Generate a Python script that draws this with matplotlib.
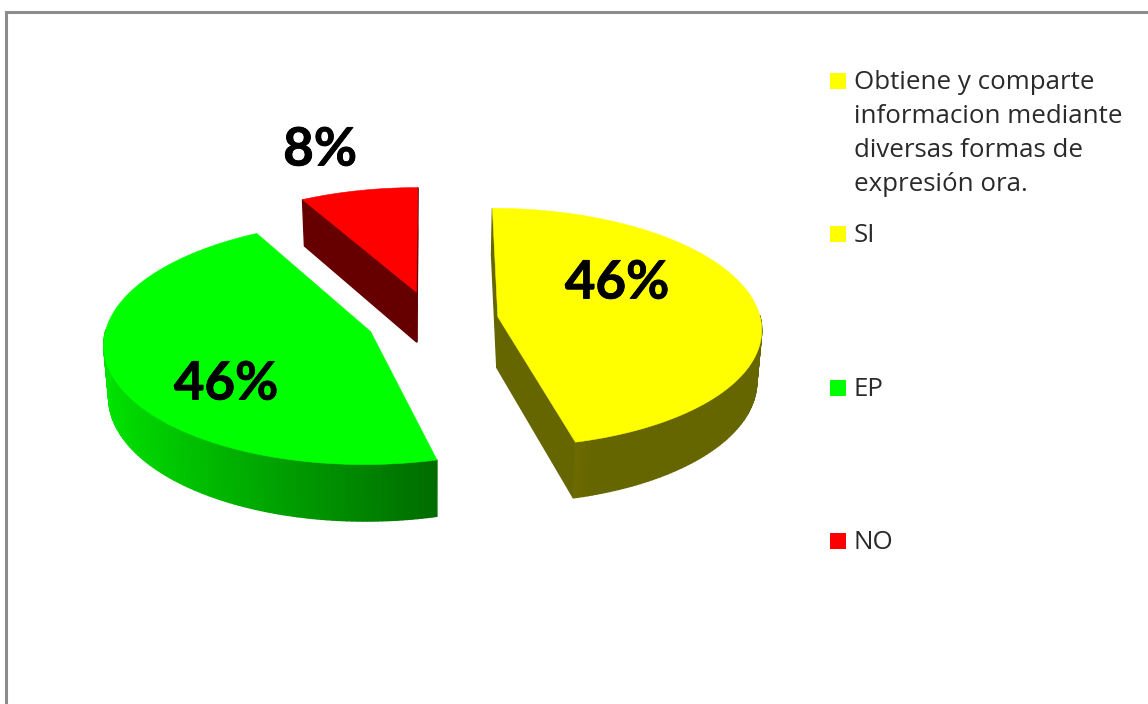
"""Exploded 3D pie chart drawn with a small perspective projection."""

from matplotlib import patheffects
from matplotlib import pyplot as plt
import numpy as np

# Chart data, clockwise from the top of the pie
SLICE_NAMES = ['SI', 'EP', 'NO']
SLICE_VALUES = [46, 46, 8]
SLICE_COLORS = [(1, 1, 0), (0, 1, 0), (1, 0, 0)]
LEGEND_TITLE = 'Obtiene y comparte\ninformacion mediante\ndiversas formas de\nexpresión ora.'

# Pie geometry, in pixels of the figure
WIDTH, HEIGHT = 1148, 704
CENTER_X, CENTER_Y = 432.5, 320.5
RADIUS = 263
EXPLODE = 66
THICKNESS = 51
TILT = 0.452
PERSPECTIVE = 0.09
BOTTOM_SHRINK = 0.015

FONT = 'Open Sans'
TEXT_COLOR = '#2a2a2a'
BORDER_COLOR = '#8c8c8c'

# Where each percentage label sits
LABEL_POS = [(617, 283), (226, 384), (320, 150)]
# Middle of the legend rows, with the first row being the title
LEGEND_ROWS = [81, 234, 388, 541]


def project(x, y, z=0.):
    """Project a point of the pie plane to figure pixels."""
    scale = 1 / (1 + PERSPECTIVE * np.asarray(y) / RADIUS)
    shrink = 1 - BOTTOM_SHRINK * z / THICKNESS
    return (CENTER_X + x * scale * shrink,
            CENTER_Y - TILT * y * scale + z * scale)


def shade(color, angle):
    """Darken a wall, the left of the pie catches more light."""
    amount = np.interp(np.cos(angle), [-1, 0.3, 1], [0.9, 0.4, 0.4])
    return tuple(c * amount for c in color)


def rim(off_x, off_y, angle):
    """Return plane coordinates of the pie rim at an angle."""
    return off_x + RADIUS * np.cos(angle), off_y + RADIUS * np.sin(angle)


def draw_quad(ax, points, color):
    """Fill one wall section."""
    xs, ys = zip(*points)
    ax.fill(xs, ys, color=color, lw=1.0, snap=False)


def draw_slice(ax, start, stop, color):
    """Draw walls and top of one slice, from start clockwise to stop."""
    mid = (start + stop) / 2
    off_x, off_y = EXPLODE * np.cos(mid), EXPLODE * np.sin(mid)
    angles = np.linspace(start, stop, max(int(np.degrees(start - stop)), 2) + 1)

    # Flat walls from the tip of the slice out to the rim, if facing us
    for angle, normal in ((start, start + np.pi / 2), (stop, stop - np.pi / 2)):
        if np.sin(normal) > 1e-6:
            continue
        rim_x, rim_y = rim(off_x, off_y, angle)
        draw_quad(ax, [project(off_x, off_y),
                       project(rim_x, rim_y),
                       project(rim_x, rim_y, THICKNESS),
                       project(off_x, off_y, THICKNESS)],
                  shade(color, 0.))

    # Curved wall, split up so that it can carry a gradient
    for a, b in zip(angles[:-1], angles[1:]):
        # The back of the rim is hidden
        if np.sin(a) > 0 and np.sin(b) > 0:
            continue
        ax_, ay_ = rim(off_x, off_y, a)
        bx_, by_ = rim(off_x, off_y, b)
        draw_quad(ax, [project(ax_, ay_),
                       project(bx_, by_),
                       project(bx_, by_, THICKNESS),
                       project(ax_, ay_, THICKNESS)],
                  shade(color, (a + b) / 2))

    # Top surface
    top = [project(off_x, off_y)] + [project(*rim(off_x, off_y, a))
                                     for a in angles]
    xs, ys = zip(*top)
    ax.fill(xs, ys, color=color, lw=0.4, zorder=3)


def draw_pie(ax):
    """Draw every slice, with angles taken from the values."""
    total = sum(SLICE_VALUES)
    start = np.pi / 2
    for value, color in zip(SLICE_VALUES, SLICE_COLORS):
        stop = start - 2 * np.pi * value / total
        draw_slice(ax, start, stop, color)
        start = stop

    # Lato bold is a bit thin here, a stroke brings it up to weight
    heavy = [patheffects.withStroke(linewidth=0.6, foreground='black')]
    for value, (x, y) in zip(SLICE_VALUES, LABEL_POS):
        ax.text(x, y, '{}%'.format(value), ha='center', va='center',
                family='Lato', weight='bold', fontsize=38, color='black',
                zorder=5, path_effects=heavy)


def draw_legend(ax):
    """Draw the legend keys and names."""
    names = [LEGEND_TITLE] + SLICE_NAMES
    colors = [SLICE_COLORS[0]] + SLICE_COLORS
    for name, color, y in zip(names, colors, LEGEND_ROWS):
        ax.fill([830, 846, 846, 830], [y - 8, y - 8, y + 8, y + 8],
                color=color, lw=0)
        ax.text(853.5, y - 11, name, ha='left', va='top', family=FONT,
                fontsize=18.6, color=TEXT_COLOR, linespacing=1.48)


if __name__ == '__main__':
    fig = plt.figure(figsize=(WIDTH / 100, HEIGHT / 100), dpi=100)
    ax = fig.add_axes([0, 0, 1, 1])
    ax.set_xlim(0, WIDTH)
    ax.set_ylim(HEIGHT, 0)
    ax.axis('off')

    # Chart border runs off the right and the bottom of the picture
    ax.plot([6, 6, WIDTH], [HEIGHT, 12, 12], color=BORDER_COLOR, lw=2.2,
            solid_joinstyle='miter')

    draw_pie(ax)
    draw_legend(ax)

    fig.savefig('out.png', dpi=100, facecolor='white')
